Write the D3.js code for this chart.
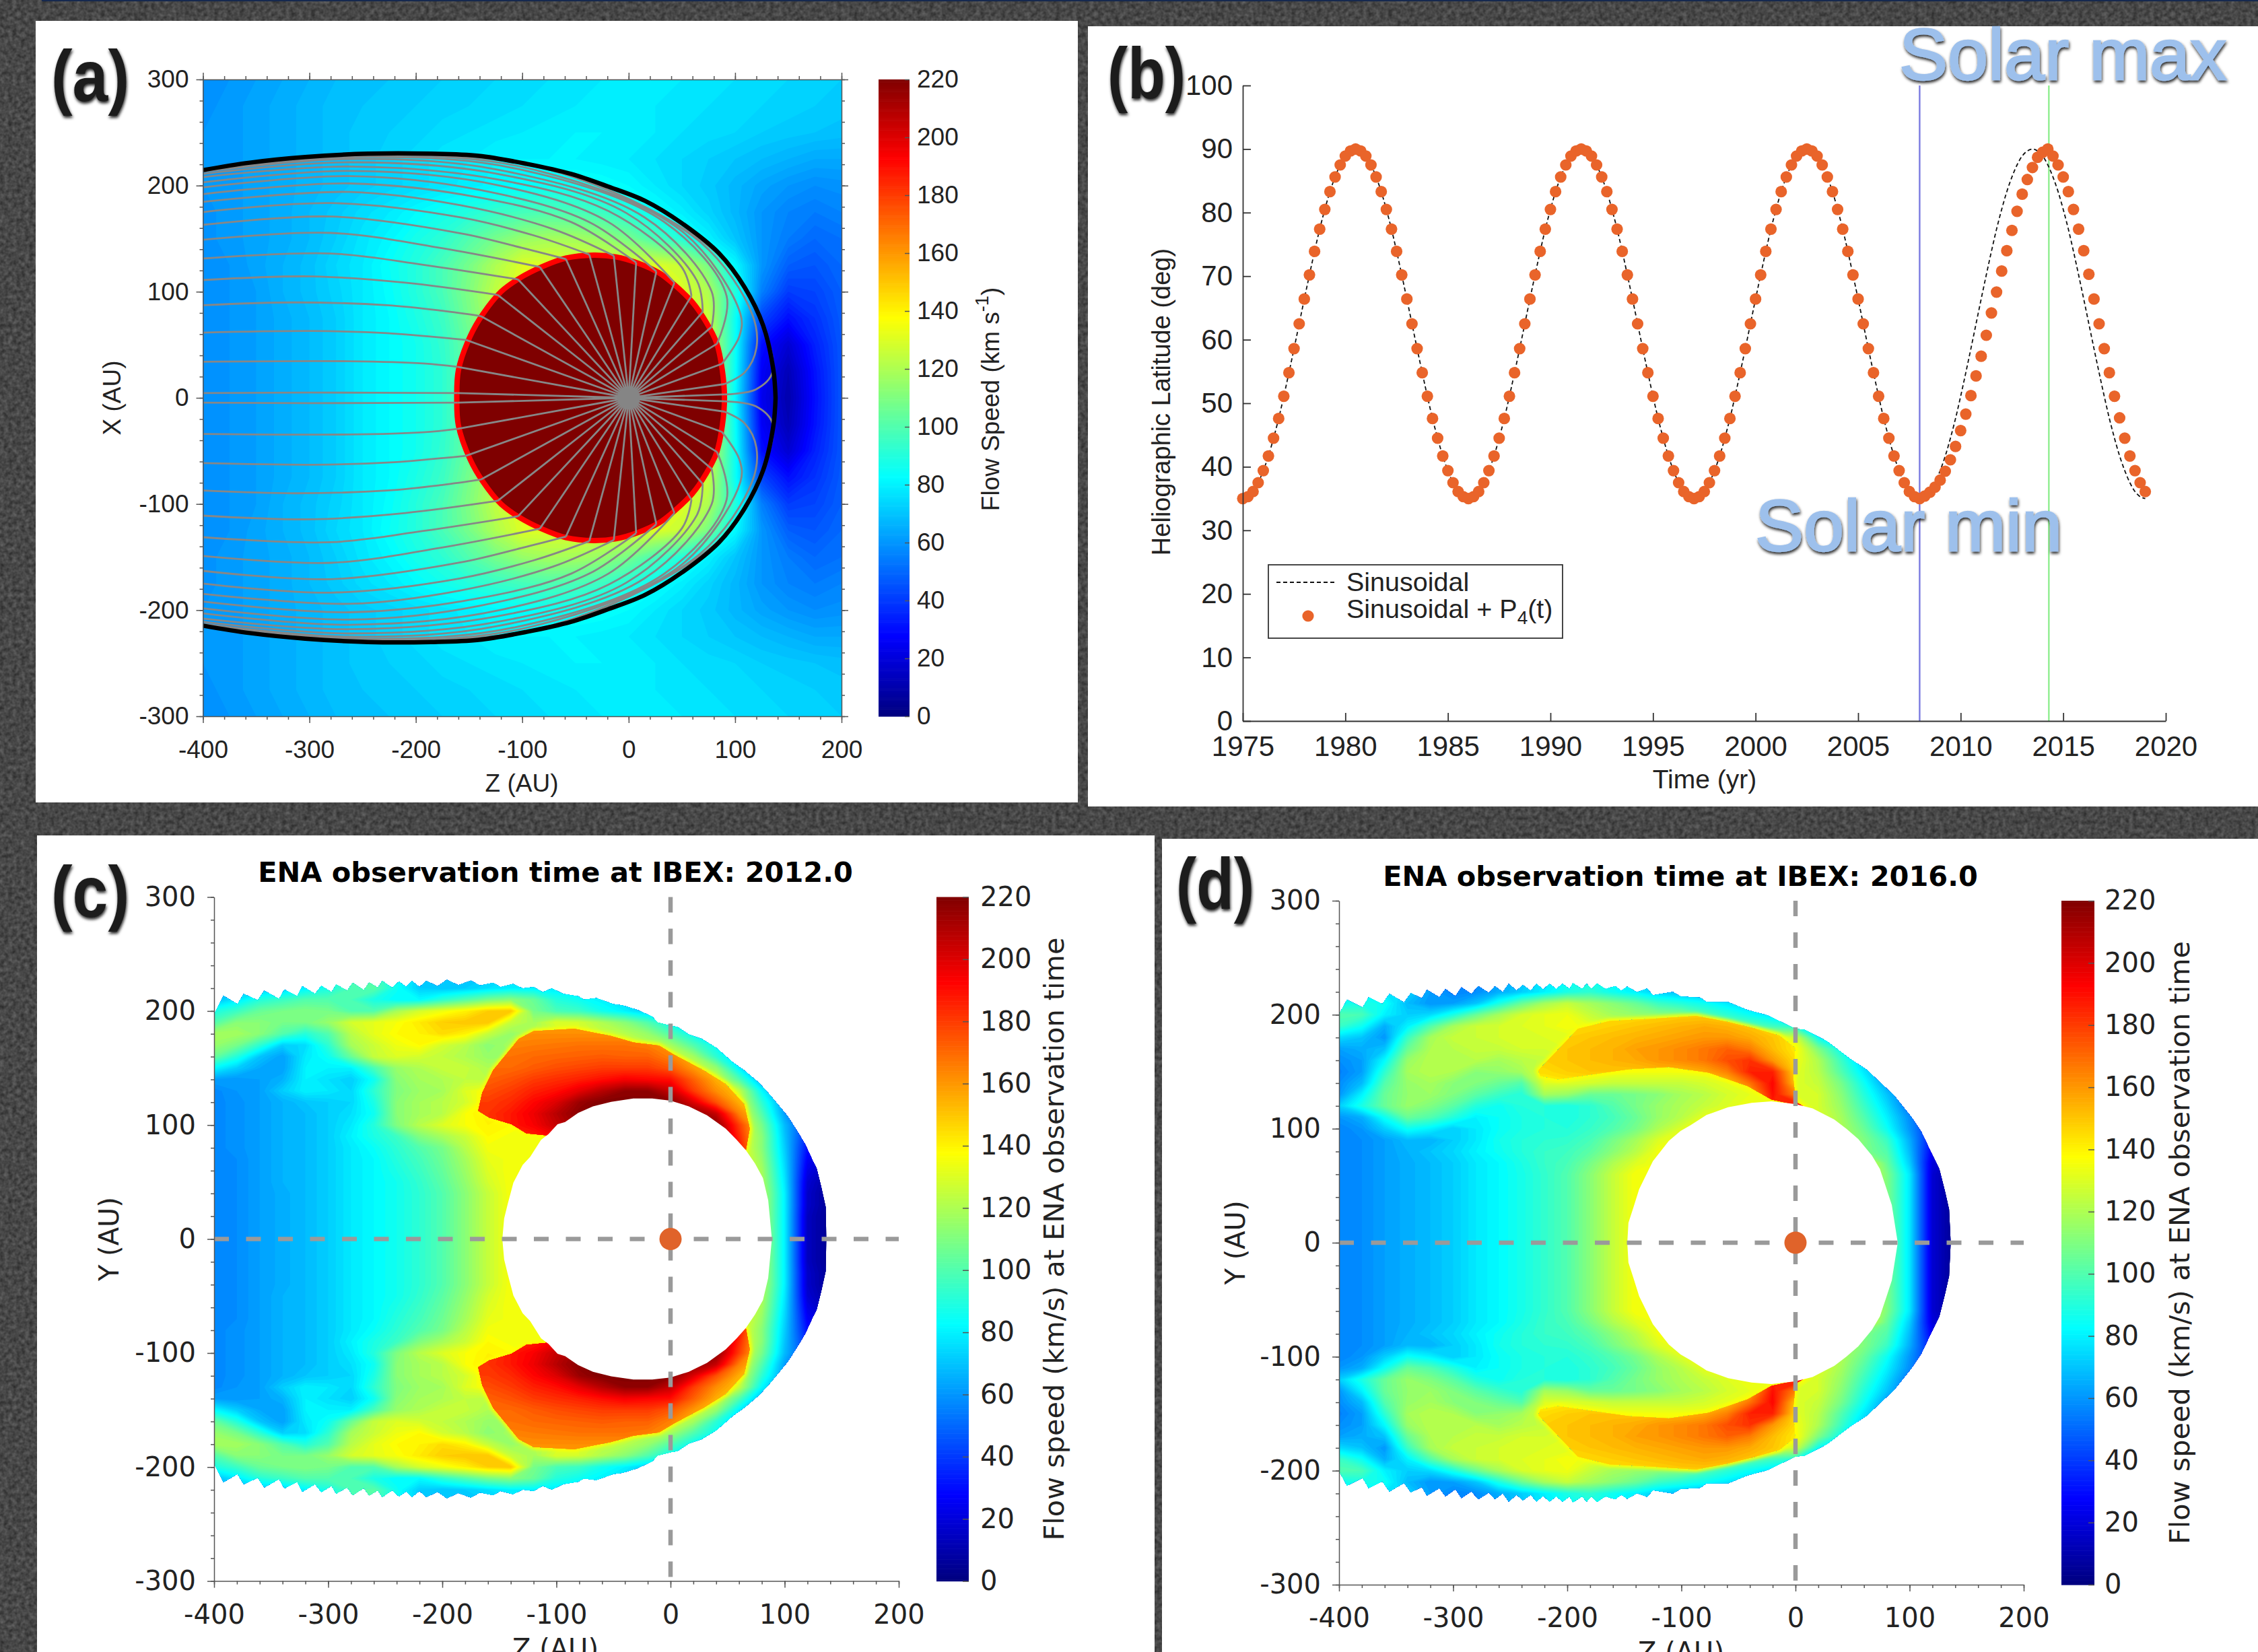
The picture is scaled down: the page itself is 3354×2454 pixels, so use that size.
<!DOCTYPE html>
<html>
<head>
<meta charset="utf-8">
<style>
	html, body { margin: 0; padding: 0; background: #444; overflow: hidden; }
	svg { display: block; }
	text { fill: #222; }
</style>
<script src="https://cdn.jsdelivr.net/npm/d3@7/dist/d3.min.js"></script>
</head>
<body>
<script>
// ---- values ----
var colorbarTicks = [0, 20, 40, 60, 80, 100, 120, 140, 160, 180, 200, 220];
var zTicks = [-400, -300, -200, -100, 0, 100, 200];
var yTicks = [-300, -200, -100, 0, 100, 200, 300];
var yearTicks = [1975, 1980, 1985, 1990, 1995, 2000, 2005, 2010, 2015, 2020];
var latTicks = [0, 10, 20, 30, 40, 50, 60, 70, 80, 90, 100];

// panel (b), one value per quarter year
var latRise = [35, 35.3, 36.1, 37.5, 39.4, 41.7, 44.5, 47.6, 51.1, 54.8, 58.6, 62.5, 66.4, 70.2, 73.9, 77.4, 80.5, 83.3, 85.6, 87.5, 88.9, 89.7, 90];
var latFall = [89.7, 88.9, 87.5, 85.6, 83.3, 80.5, 77.4, 73.9, 70.2, 66.4, 62.5, 58.6, 54.8, 51.1, 47.6, 44.5, 41.7, 39.4, 37.5, 36.1, 35.3, 35];
var lastCycleDots = [35.4, 36, 36.8, 37.9, 39.3, 41.1, 43.2, 45.7, 48.3, 51.2, 54.3, 57.4, 60.7, 64.2, 67.5, 70.8, 74, 77.2, 80.2, 82.9, 85.2, 87.1, 88.7, 89.5, 90,
	88.9, 87.5, 85.6, 83.3, 80.5, 77.4, 74, 70.3, 66.4, 62.5, 58.6, 54.8, 51.1, 47.7, 44.5, 41.7, 39.4, 37.5, 36.1];
var solarMinYear = 2008;
var solarMaxYear = 2014.3;

// panel (a) flow speed, rows from X=300 down to X=0
var fieldAz = d3.range(-400, 201, 25);
var fieldAx = d3.range(300, -1, -25);
var fieldA = [
	[58, 60, 62, 64, 66, 68, 69, 70, 71, 72, 73, 74, 75, 76, 77, 78, 78, 78, 78, 77, 76, 75, 74, 73, 72],
	[59, 61, 63, 65, 67, 69, 70, 71, 72, 73, 74, 75, 76, 77, 78, 78, 78, 78, 77, 76, 75, 74, 73, 72, 71],
	[60, 61, 63, 65, 67, 69, 71, 72, 73, 75, 76, 77, 78, 79, 80, 80, 79, 78, 76, 75, 74, 72, 71, 70, 69],
	[60, 61, 63, 65, 67, 69, 71, 73, 75, 77, 78, 80, 80, 80, 80, 79, 78, 76, 74, 72, 70, 68, 66, 64, 64],
	[60, 61, 63, 65, 67, 69, 71, 73, 75, 77, 79, 81, 83, 85, 85, 84, 82, 78, 74, 71, 67, 63, 60, 58, 59],
	[59, 61, 63, 65, 68, 71, 75, 78, 82, 86, 90, 94, 97, 99, 98, 95, 90, 84, 79, 73, 67, 60, 56, 54, 56],
	[59, 61, 63, 65, 68, 72, 77, 81, 87, 92, 100, 108, 115, 118, 118, 115, 108, 98, 90, 80, 70, 60, 54, 50, 52],
	[58, 60, 63, 66, 69, 74, 78, 84, 90, 98, 108, 120, 130, 130, 130, 130, 130, 130, 125, 108, 82, 60, 48, 46, 50],
	[58, 60, 62, 66, 69, 73, 78, 83, 90, 98, 110, 124, 132, 135, 135, 135, 135, 135, 130, 120, 90, 55, 40, 42, 48],
	[58, 60, 62, 65, 68, 72, 78, 82, 88, 95, 108, 122, 135, 135, 135, 135, 135, 135, 130, 125, 85, 42, 30, 38, 47],
	[58, 60, 62, 65, 68, 72, 78, 82, 86, 93, 105, 120, 135, 135, 135, 135, 135, 135, 130, 128, 85, 30, 18, 34, 46],
	[58, 60, 62, 65, 68, 72, 78, 82, 86, 92, 105, 120, 135, 135, 135, 135, 135, 135, 130, 128, 84, 26, 12, 31, 46],
	[58, 60, 62, 65, 68, 72, 78, 82, 86, 92, 105, 120, 135, 135, 135, 135, 135, 135, 130, 128, 82, 24, 10, 30, 46]
];

// panel (a) outlines, upper half, [Z, X] in AU
var heliopause = [[-400, 214.6], [-356, 221.6], [-304, 226.9], [-245, 230], [-186, 230], [-141, 228], [-96, 220.5], [-54, 211], [-19, 199], [15.4, 185.6], [50, 164.5], [85, 136], [109, 104], [126.4, 68], [136, 26], [138, 0]];
var termShock = [[-161.5, 0], [-160, 26], [-149, 58], [-137, 79], [-120, 100], [-102.6, 112.7], [-82, 123.3], [-59, 131.7], [-33, 134.5], [-12, 132.8], [8.5, 127], [29, 117.5], [43, 106.5], [60, 90], [73, 71], [82.5, 52], [88, 26], [90, 0]];
// streamlines, upper half: tail first, the last point sits on the shock
var streams = [
	[[-400, 4.5], [-300, 5], [-161, 4.5]],
	[[-400, 34], [-262, 34.5], [-193, 32.4], [-161, 29.2]],
	[[-400, 61.5], [-297, 63], [-227, 61], [-153, 54.6]],
	[[-400, 87.3], [-314, 89.9], [-227, 87.3], [-175, 82], [-139, 77]],
	[[-400, 111], [-297, 114.4], [-210, 108.5], [-123, 97]],
	[[-400, 131.3], [-279.6, 136], [-193, 125.4], [-104, 111.6]],
	[[-400, 149], [-279.6, 155.4], [-175.5, 141], [-83.5, 123.3]],
	[[-400, 163], [-279.6, 170.8], [-158, 155], [-99, 141], [-59, 130.7]],
	[[-400, 175], [-279.6, 183.5], [-158, 170], [-89, 153], [-37, 135]],
	[[-400, 184.6], [-262, 194], [-158, 181.4], [-71, 159], [-14, 134]],
	[[-400, 192], [-262, 202], [-140.7, 188.8], [-54, 165.6], [7, 127.5]],
	[[-400, 198.3], [-262, 208.9], [-140.7, 196], [-37, 165.6], [26, 119]],
	[[-400, 203], [-262, 213.8], [-123, 200.4], [-19, 165.6], [43, 108.5]],
	[[-400, 208], [-262, 218], [-123, 205.7], [-19, 176], [50, 123], [59, 96]],
	[[-400, 211], [-262, 222], [-123, 211], [-2, 174], [64, 110.6], [69.5, 81]],
	[[-400, 213], [-262, 225], [-123, 215], [15, 170], [78, 100], [78, 67]],
	[[-400, 214], [-245, 227], [-106, 216], [33, 166], [92, 96], [83, 51]],
	[[-400, 214.5], [-227.5, 228.5], [-89, 215], [50, 157], [105, 79], [104, 58], [87.5, 32]],
	[[-400, 214.5], [-210, 229], [-71, 214], [67, 147], [116, 79], [120, 47], [109, 24], [90, 13]],
	[[-400, 214.7], [-193, 229.4], [-54, 209], [82, 137], [122, 78], [135, 24], [119.5, 8], [90, 3.2]]
];

// panels (c) and (d): flow speed, rows from Y=230 down to Y=0, columns Z=-400..140
var fieldZ = d3.range(-400, 141, 20);
var fieldY = d3.range(230, -1, -10);
var fieldC = [
	[70, 70, 70, 72, 80, 88, 98, 100, 85, 72, 70, 70, 72, 75, 75, 72, 70, 68, 65, 62, 60, 60, 60, 60, 60, 60, 60, 60],
	[70, 70, 70, 72, 80, 88, 98, 102, 85, 72, 70, 72, 76, 80, 80, 78, 76, 72, 68, 65, 62, 60, 60, 60, 60, 60, 60, 60],
	[68, 78, 90, 95, 100, 100, 98, 88, 82, 82, 92, 100, 108, 112, 105, 90, 85, 80, 74, 70, 66, 62, 60, 60, 60, 60, 60, 60],
	[88, 95, 105, 108, 110, 108, 100, 100, 118, 128, 134, 140, 148, 150, 108, 98, 95, 86, 80, 72, 68, 64, 60, 60, 60, 60, 60, 60],
	[100, 112, 112, 108, 108, 115, 128, 132, 136, 142, 148, 150, 150, 125, 118, 130, 128, 120, 112, 100, 85, 74, 66, 60, 60, 60, 60, 60],
	[118, 118, 112, 100, 90, 100, 122, 132, 138, 140, 145, 140, 125, 115, 120, 125, 128, 125, 122, 115, 100, 84, 72, 62, 60, 60, 60, 60],
	[115, 108, 92, 72, 75, 92, 118, 126, 134, 138, 128, 122, 112, 118, 122, 122, 125, 125, 125, 122, 118, 100, 84, 70, 60, 60, 60, 60],
	[105, 90, 70, 62, 78, 85, 105, 125, 130, 128, 124, 120, 115, 115, 120, 125, 125, 125, 125, 125, 125, 118, 92, 72, 60, 60, 60, 60],
	[82, 72, 64, 62, 80, 80, 80, 98, 115, 120, 125, 125, 120, 128, 130, 130, 130, 130, 130, 130, 130, 125, 115, 80, 60, 60, 60, 60],
	[62, 60, 62, 66, 80, 76, 72, 85, 112, 118, 120, 124, 122, 130, 130, 130, 130, 130, 130, 130, 130, 130, 128, 100, 65, 55, 55, 55],
	[57, 60, 62, 72, 80, 78, 74, 92, 110, 116, 118, 130, 138, 135, 130, 130, 130, 130, 130, 130, 130, 130, 135, 125, 82, 55, 45, 45],
	[57, 59, 62, 66, 70, 72, 74, 88, 112, 118, 122, 128, 140, 145, 135, 135, 135, 135, 135, 135, 135, 135, 135, 130, 92, 60, 45, 40],
	[57, 59, 62, 66, 68, 72, 76, 85, 112, 118, 122, 136, 142, 140, 135, 135, 135, 135, 135, 135, 135, 135, 135, 135, 100, 62, 42, 35],
	[57, 59, 62, 66, 68, 72, 78, 90, 110, 122, 130, 136, 140, 138, 135, 135, 135, 135, 135, 135, 135, 135, 135, 135, 108, 68, 40, 30],
	[57, 59, 62, 66, 68, 72, 80, 88, 95, 110, 118, 126, 138, 135, 135, 135, 135, 135, 135, 135, 135, 135, 135, 135, 112, 70, 35, 25],
	[57, 59, 62, 66, 68, 72, 78, 84, 92, 100, 108, 122, 135, 135, 135, 135, 135, 135, 135, 135, 135, 135, 135, 135, 112, 72, 30, 20],
	[57, 58, 62, 66, 68, 72, 78, 82, 90, 97, 106, 118, 132, 135, 135, 135, 135, 135, 135, 135, 135, 135, 135, 135, 115, 74, 26, 15],
	[56, 58, 62, 66, 68, 72, 78, 82, 88, 95, 104, 116, 130, 136, 135, 135, 135, 135, 135, 135, 135, 135, 135, 135, 118, 76, 22, 10],
	[56, 58, 62, 66, 68, 72, 78, 82, 86, 93, 102, 114, 128, 136, 135, 135, 135, 135, 135, 135, 135, 135, 135, 135, 120, 78, 18, 6],
	[56, 58, 62, 65, 68, 72, 78, 82, 86, 92, 100, 112, 125, 136, 135, 135, 135, 135, 135, 135, 135, 135, 135, 135, 122, 80, 16, 4],
	[56, 58, 62, 65, 68, 72, 78, 82, 86, 92, 100, 112, 125, 136, 135, 135, 135, 135, 135, 135, 135, 135, 135, 135, 122, 80, 16, 4],
	[56, 58, 62, 65, 68, 72, 78, 82, 86, 92, 100, 112, 125, 136, 135, 135, 135, 135, 135, 135, 135, 135, 135, 135, 122, 80, 14, 3],
	[56, 58, 62, 65, 68, 72, 78, 82, 86, 92, 100, 112, 125, 136, 135, 135, 135, 135, 135, 135, 135, 135, 135, 135, 122, 80, 14, 3],
	[56, 58, 62, 65, 68, 72, 78, 82, 86, 92, 100, 112, 125, 136, 135, 135, 135, 135, 135, 135, 135, 135, 135, 135, 122, 80, 14, 3]
];
var fieldD = [
	[78, 78, 76, 72, 60, 56, 58, 62, 70, 78, 84, 88, 82, 76, 70, 66, 62, 60, 60, 60, 60, 60, 60, 60, 60, 60, 60, 60],
	[80, 80, 78, 75, 62, 56, 58, 65, 72, 80, 88, 92, 85, 80, 72, 68, 65, 62, 60, 60, 60, 60, 60, 60, 60, 60, 60, 60],
	[85, 88, 85, 68, 60, 62, 70, 88, 105, 118, 125, 118, 112, 105, 95, 90, 85, 78, 72, 66, 62, 60, 60, 60, 60, 60, 60, 60],
	[100, 98, 80, 72, 75, 88, 105, 118, 128, 132, 134, 125, 118, 115, 112, 110, 100, 92, 84, 76, 68, 62, 60, 60, 60, 60, 60, 60],
	[95, 85, 65, 80, 100, 118, 126, 128, 130, 132, 136, 132, 125, 122, 118, 115, 112, 108, 102, 96, 90, 72, 62, 60, 60, 60, 60, 60],
	[75, 70, 60, 95, 118, 125, 126, 128, 128, 130, 130, 128, 128, 128, 128, 128, 125, 122, 125, 130, 128, 85, 68, 60, 60, 60, 60, 60],
	[62, 65, 70, 105, 120, 122, 125, 125, 128, 128, 130, 130, 130, 130, 130, 130, 130, 130, 130, 135, 138, 110, 85, 66, 60, 60, 60, 60],
	[58, 62, 82, 115, 122, 120, 122, 118, 122, 125, 128, 130, 130, 130, 130, 130, 130, 130, 130, 135, 135, 120, 95, 70, 55, 55, 55, 55],
	[55, 62, 92, 118, 122, 120, 112, 114, 118, 130, 132, 135, 135, 135, 135, 135, 135, 135, 135, 135, 132, 122, 100, 78, 60, 50, 50, 50],
	[58, 68, 100, 115, 118, 112, 110, 105, 100, 130, 130, 128, 125, 125, 125, 125, 128, 132, 135, 135, 130, 125, 108, 85, 62, 50, 45, 45],
	[60, 80, 105, 114, 116, 110, 102, 95, 90, 118, 115, 105, 105, 108, 112, 118, 122, 128, 132, 132, 130, 128, 112, 90, 70, 50, 42, 42],
	[72, 88, 105, 115, 110, 102, 90, 85, 90, 90, 88, 92, 100, 108, 115, 120, 125, 130, 135, 135, 135, 128, 115, 95, 75, 52, 40, 40],
	[60, 65, 85, 105, 100, 90, 80, 84, 88, 90, 88, 92, 97, 105, 115, 122, 132, 135, 135, 135, 135, 130, 118, 100, 80, 58, 38, 30],
	[56, 60, 72, 85, 80, 72, 78, 84, 88, 90, 90, 94, 100, 108, 120, 130, 135, 135, 135, 135, 135, 130, 120, 105, 85, 60, 35, 25],
	[56, 58, 62, 68, 66, 72, 78, 86, 90, 92, 93, 98, 108, 118, 130, 135, 135, 135, 135, 135, 135, 130, 120, 110, 95, 65, 30, 20],
	[56, 58, 62, 66, 70, 74, 80, 85, 90, 94, 96, 102, 112, 122, 135, 135, 135, 135, 135, 135, 135, 130, 120, 110, 100, 68, 25, 15],
	[56, 58, 62, 65, 68, 72, 78, 82, 88, 94, 98, 108, 120, 130, 135, 135, 135, 135, 135, 135, 135, 135, 135, 135, 105, 72, 20, 10],
	[56, 58, 62, 65, 68, 72, 78, 82, 87, 93, 100, 112, 125, 136, 135, 135, 135, 135, 135, 135, 135, 135, 135, 135, 110, 78, 18, 3],
	[56, 58, 62, 65, 68, 72, 78, 82, 87, 93, 100, 112, 125, 136, 135, 135, 135, 135, 135, 135, 135, 135, 135, 135, 110, 78, 18, 3],
	[56, 58, 62, 65, 68, 72, 78, 82, 87, 93, 100, 112, 125, 136, 135, 135, 135, 135, 135, 135, 135, 135, 135, 135, 110, 78, 18, 3],
	[56, 58, 62, 65, 68, 72, 78, 82, 87, 93, 100, 112, 125, 136, 135, 135, 135, 135, 135, 135, 135, 135, 135, 135, 110, 78, 18, 3],
	[56, 58, 62, 65, 68, 72, 78, 82, 87, 93, 100, 112, 125, 136, 135, 135, 135, 135, 135, 135, 135, 135, 135, 135, 110, 78, 18, 3],
	[56, 58, 62, 65, 68, 72, 78, 82, 87, 93, 100, 112, 125, 136, 135, 135, 135, 135, 135, 135, 135, 135, 135, 135, 110, 78, 18, 3],
	[56, 58, 62, 65, 68, 72, 78, 82, 87, 93, 100, 112, 125, 136, 135, 135, 135, 135, 135, 135, 135, 135, 135, 135, 110, 78, 18, 3]
];

// the hot lobes, with their own sharper outline. Rows top down.
var lobeCz = d3.range(-180, 81, 20);
var lobeCy = d3.range(190, 79, -10);
var lobeC = [
	[160, 160, 160, 160, 160, 160, 160, 160, 160, 160, 150, 145, 140, 140],
	[160, 160, 160, 162, 162, 162, 162, 162, 160, 155, 150, 145, 140, 140],
	[165, 165, 165, 166, 167, 168, 168, 168, 166, 160, 150, 145, 140, 140],
	[168, 168, 168, 170, 171, 172, 173, 172, 172, 165, 152, 147, 140, 140],
	[170, 170, 170, 173, 176, 178, 180, 180, 180, 174, 160, 150, 145, 140],
	[172, 172, 175, 180, 183, 186, 190, 194, 192, 190, 172, 155, 145, 140],
	[176, 176, 180, 186, 190, 198, 208, 216, 216, 205, 180, 162, 150, 140],
	[180, 180, 184, 192, 200, 214, 220, 220, 220, 218, 200, 175, 155, 145],
	[182, 182, 188, 196, 208, 218, 220, 220, 220, 220, 218, 205, 165, 145],
	[180, 180, 188, 194, 205, 215, 220, 220, 220, 220, 220, 218, 180, 145],
	[170, 172, 178, 186, 195, 210, 220, 220, 220, 220, 220, 220, 185, 145],
	[165, 165, 170, 178, 190, 205, 220, 220, 220, 220, 220, 220, 190, 145]
];
var lobeDz = d3.range(-240, 21, 20);
var lobeDy = d3.range(200, 109, -10);
var lobeD = [
	[145, 145, 145, 145, 145, 145, 146, 148, 148, 146, 145, 145, 140, 138],
	[146, 146, 146, 146, 148, 150, 152, 154, 156, 154, 150, 145, 140, 138],
	[148, 148, 148, 150, 152, 154, 156, 158, 160, 160, 156, 150, 142, 138],
	[148, 148, 150, 152, 154, 158, 160, 163, 167, 172, 166, 152, 142, 138],
	[148, 148, 150, 152, 154, 156, 160, 163, 167, 176, 182, 160, 145, 138],
	[145, 145, 148, 150, 150, 150, 152, 152, 156, 165, 186, 186, 146, 138],
	[140, 140, 142, 142, 142, 142, 142, 142, 146, 150, 168, 192, 150, 138],
	[138, 138, 138, 138, 138, 138, 138, 138, 138, 142, 152, 190, 165, 140],
	[138, 138, 138, 138, 138, 138, 138, 138, 138, 140, 150, 185, 195, 180],
	[138, 138, 138, 138, 138, 138, 138, 138, 138, 140, 150, 180, 195, 180]
];
var lobeOutlineC = [[-108.6, 91], [-126.4, 92.8], [-139.3, 100.7], [-159, 106.6], [-168.5, 112.5], [-165, 128.3], [-155.5, 148], [-142.6, 163.7], [-133, 175.5], [-120, 182.4], [-84.3, 184.4], [-52, 178], [-32.6, 172.5], [-10, 169.6], [3, 161.7], [29, 148], [48.3, 136], [64.5, 118.4], [69.4, 96.8], [66, 78]];
var lobeOutlineD = [[-225.3, 151.2], [-223.6, 146.3], [-208, 143.4], [-180.3, 147.3], [-145.7, 152.2], [-111, 154.2], [-76.5, 149.3], [-42, 137.5], [-21, 125.7], [-7.3, 122.7], [8, 118.8], [0, 123.7], [-2, 145.3], [-0.4, 171], [-14.2, 181.8], [-35, 187.7], [-59, 193.6], [-87, 198.9], [-125, 196.5], [-163, 194.5], [-190.7, 187.7], [-204.6, 172.9]];

// outer jagged rim and inner hole, upper half, [Z, Y] in AU
var rimC = [[-400, 197], [-391.8, 213.3], [-379.5, 206], [-374, 215], [-361.7, 209.3], [-356, 217.8], [-343, 210.5], [-338.4, 218.8], [-327, 213], [-322.8, 221.7], [-311.5, 214.9], [-306, 222], [-297, 216.4], [-293, 223.3], [-283.4, 217.8], [-278.5, 224.7], [-268.8, 218.4], [-264, 225], [-256.5, 220.4], [-252.6, 226.3], [-244, 220.4], [-238, 225.7], [-231.6, 221.2], [-226.7, 226.3], [-220, 221], [-214, 226.3], [-204, 221.7], [-196, 227.3], [-186, 222.7], [-175, 226.7], [-167, 222.3], [-155.5, 224.7], [-149, 221], [-138, 223.7], [-129.6, 219.8], [-120, 221], [-112, 216.4], [-104, 219.8], [-94, 214.9], [-81, 212.9], [-76, 210], [-65, 211.3], [-50, 206], [-42, 205], [-29, 201], [-16, 195], [-11.5, 190], [0, 187], [6, 186], [16, 179.4], [27.3, 175.5], [40.2, 167.6], [54.8, 154.8], [64.5, 148], [77.5, 137], [87.2, 126.3], [102.7, 107.6], [112, 93], [118, 83], [124, 70], [128, 62], [132, 46], [136, 28], [136.5, 0]];
var holeC = [[-147.4, 0], [-145.8, 18], [-142.6, 31], [-137.7, 49.5], [-129.6, 65], [-123, 72], [-113.5, 87], [-107, 92], [-99, 100.7], [-92.4, 102.7], [-81, 110.6], [-68, 116.4], [-52, 120.4], [-32.6, 123.3], [-16, 123.3], [0, 121.4], [16, 116.4], [32, 108.6], [48.3, 96.8], [58, 87], [66, 78], [74, 66.3], [81, 53.5], [85.6, 34], [88.8, 0]];
var rimD = [[-400, 200.4], [-393, 213], [-379.3, 206.3], [-374, 215.2], [-362, 209.3], [-355.8, 218.2], [-343, 210.7], [-337, 219], [-327.4, 214.2], [-323, 221.7], [-312, 215.2], [-306.7, 222.5], [-298, 216.2], [-292.8, 224], [-284, 218], [-278, 225], [-268.6, 219.1], [-263.4, 225], [-256.5, 219.7], [-251.3, 227], [-244.4, 221], [-239, 226], [-232, 221], [-227, 227], [-221, 222], [-215.6, 227], [-209.7, 222.5], [-204, 227], [-198, 222.5], [-195, 227.6], [-187, 222.5], [-183, 227], [-178.6, 222.5], [-174, 227.4], [-166.5, 222.5], [-158, 225], [-152.6, 221], [-147.5, 224.5], [-138.8, 219.7], [-130, 223], [-125, 217], [-107.6, 220], [-100.7, 216], [-83.4, 215], [-78, 211], [-59, 211], [-42, 204], [-24.6, 199.5], [-0.4, 187.7], [8, 186.7], [27.3, 176.8], [48, 161], [62, 152], [77.5, 137.5], [86, 129.6], [101.7, 110], [110.4, 97], [117.3, 82.4], [126, 64.7], [131, 45], [134.6, 29.2], [136, 0]];
var holeD = [[-147.4, 0], [-146.4, 17.4], [-142, 31], [-137, 47], [-125, 71.5], [-111, 89.3], [-100.7, 98], [-92, 103], [-78, 112], [-59, 118.8], [-38.4, 122.7], [-21, 124], [-0.4, 121.7], [15, 117.8], [34, 108], [44.6, 100], [55, 91], [67, 76.5], [74, 64.7], [79.2, 49], [84.4, 33], [89.6, 0]];

// ---- page ----
var W = 3354, H = 2454;
var tickFont = '"Liberation Sans", Arial, sans-serif';
var dejaFont = '"DejaVu Sans", sans-serif';

// same jet as the colorbars
var jet = d3.scaleLinear()
	.domain([0, 27.5, 82.5, 137.5, 192.5, 220])
	.range(["#00007f", "#0000ff", "#00ffff", "#ffff00", "#ff0000", "#7f0000"])
	.clamp(true);

var svg = d3.select("body").append("svg").attr("width", W).attr("height", H);
var defs = svg.append("defs");

var grain = defs.append("filter").attr("id", "grain").attr("x", 0).attr("y", 0).attr("width", 1).attr("height", 1)
	.attr("color-interpolation-filters", "sRGB");
grain.append("feTurbulence").attr("type", "fractalNoise").attr("baseFrequency", 0.16).attr("numOctaves", 2).attr("seed", 4);
grain.append("feColorMatrix").attr("values", "0.28 0 0 0 0.14  0.28 0 0 0 0.14  0.28 0 0 0 0.14  0 0 0 0 1");

var shadow = defs.append("filter").attr("id", "shadow").attr("x", "-10%").attr("y", "-10%").attr("width", "120%").attr("height", "130%");
shadow.append("feDropShadow").attr("dx", 1).attr("dy", 3).attr("stdDeviation", 2).attr("flood-color", "#000").attr("flood-opacity", 0.85);

var soft = defs.append("filter").attr("id", "soft").attr("x", "-10%").attr("y", "-10%").attr("width", "120%").attr("height", "120%");
soft.append("feGaussianBlur").attr("stdDeviation", 2.5);

svg.append("rect").attr("width", W).attr("height", H).attr("filter", "url(#grain)");
svg.append("rect").attr("x", 62).attr("y", 0).attr("width", W - 62).attr("height", 2).attr("fill", "#16294f");

// white sheets behind the four panels
[[53, 31, 1548, 1161], [1616, 39, 1738, 1159], [55, 1241, 1660, 1213], [1726, 1246, 1628, 1208]].forEach(function (s) {
	svg.append("rect").attr("x", s[0]).attr("y", s[1]).attr("width", s[2]).attr("height", s[3]).attr("fill", "#fff");
});

function mirrored(half) {
	var back = half.slice().reverse().map(function (p) {
		return [p[0], -p[1]];
	});
	return half.concat(back);
}

function mirrorRows(rows) {
	return rows.concat(rows.slice(0, -1).reverse());
}

// filled contours of a regular grid, stacked from low to high
function drawField(g, rows, zs, ys, zScale, yScale) {
	var n = zs.length, m = rows.length;
	var dz = zs[1] - zs[0], dy = ys[1] - ys[0];
	var levels = d3.range(2, 220, 2);
	var contours = d3.contours().size([n, m]).thresholds(levels)(d3.merge(rows));
	var toScreen = d3.geoTransform({
		point: function (x, y) {
			this.stream.point(zScale(zs[0] + (x - 0.5) * dz), yScale(ys[0] + (y - 0.5) * dy));
		}
	});
	var path = d3.geoPath(toScreen);
	g.append("rect")
		.attr("x", zScale(zs[0] - dz)).attr("y", Math.min(yScale(ys[0] - dy), yScale(ys[0] + dy * m)))
		.attr("width", Math.abs(zScale(zs[n - 1] + dz) - zScale(zs[0] - dz)))
		.attr("height", Math.abs(yScale(ys[0] + dy * m) - yScale(ys[0] - dy)))
		.attr("fill", jet(0));
	g.selectAll("path.level").data(contours).enter().append("path")
		.attr("class", "level")
		.attr("d", path)
		.attr("fill", function (d) { return jet(d.value + 1); });
}

function drawColorbar(g, x, top, bottom, barWidth, pad, fontFamily, fontSize, tickLen) {
	var c = d3.scaleLinear().domain([0, 220]).range([bottom, top]);
	g.selectAll("rect.cb").data(d3.range(0, 220, 0.5)).enter().append("rect")
		.attr("class", "cb")
		.attr("x", x)
		.attr("width", barWidth)
		.attr("y", function (d) { return c(d + 0.5); })
		.attr("height", (bottom - top) / 440 + 0.6)
		.attr("fill", function (d) { return jet(d); });
	var axis = g.append("g").attr("transform", "translate(" + (x + barWidth) + ",0)")
		.call(d3.axisRight(c).tickValues(colorbarTicks).tickSizeInner(-tickLen).tickSizeOuter(0).tickPadding(pad));
	axis.select(".domain").attr("stroke", "none");
	axis.selectAll("line").attr("stroke", "#555").attr("stroke-width", 1.5);
	axis.selectAll("text").attr("font-family", fontFamily).attr("font-size", fontSize).style("fill", "#222");
}

// major and minor ticks, drawn outwards on the requested sides
function drawBoxAxes(g, zS, yS, padLeft, padBottom, fontFamily, fontSize, box) {
	var plain = function (d) { return String(d); };
	var minorZ = d3.range(-400, 201, 20), minorY = d3.range(-300, 301, 20);
	var sides = [
		[d3.axisLeft(yS), yTicks, minorY, "translate(" + zS.range()[0] + ",0)", padLeft, true],
		[d3.axisBottom(zS), zTicks, minorZ, "translate(0," + yS.range()[0] + ")", padBottom, true]
	];
	if (box) {
		sides.push([d3.axisRight(yS), yTicks, minorY, "translate(" + zS.range()[1] + ",0)", 0, false]);
		sides.push([d3.axisTop(zS), zTicks, minorZ, "translate(0," + yS.range()[1] + ")", 0, false]);
	}
	sides.forEach(function (s) {
		var a = s[0];
		var gMinor = g.append("g").attr("transform", s[3])
			.call(a.tickValues(s[2]).tickSizeInner(5).tickSizeOuter(0).tickFormat(""));
		gMinor.selectAll("line").attr("stroke", "#555").attr("stroke-width", 1.5);
		gMinor.select(".domain").attr("stroke", "#555").attr("stroke-width", 1.5);
		var gMajor = g.append("g").attr("transform", s[3])
			.call(a.tickValues(s[1]).tickSizeInner(10).tickSizeOuter(0).tickPadding(s[4]).tickFormat(s[5] ? plain : ""));
		gMajor.select(".domain").remove();
		gMajor.selectAll("line").attr("stroke", "#555").attr("stroke-width", 1.5);
		gMajor.selectAll("text").attr("font-family", fontFamily).attr("font-size", fontSize).style("fill", "#222");
	});
}

function addText(x, y, str, family, size, extra) {
	var t = svg.append("text").attr("x", x).attr("y", y).attr("font-family", family).attr("font-size", size).text(str);
	if (extra && extra.rotate) {
		t.attr("transform", "rotate(-90 " + x + " " + y + ")").attr("text-anchor", "middle").attr("dominant-baseline", "central");
	}
	if (extra && extra.anchor) { t.attr("text-anchor", extra.anchor); }
	if (extra && extra.weight) { t.attr("font-weight", extra.weight); }
	return t;
}

function panelLetter(x, y, str) {
	svg.append("text").attr("x", x).attr("y", y).text(str)
		.attr("font-family", tickFont).attr("font-size", 108).attr("font-weight", "bold")
		.attr("textLength", 116).attr("lengthAdjust", "spacingAndGlyphs")
		.style("fill", "#1c1c1c").attr("filter", "url(#shadow)");
}

// ---- panel (a) ----
function drawPanelA() {
	var zS = d3.scaleLinear().domain([-400, 200]).range([301.5, 1250]);
	var yS = d3.scaleLinear().domain([-300, 300]).range([1064, 118]);
	var g = svg.append("g");
	var clip = defs.append("clipPath").attr("id", "clipA");
	clip.append("rect").attr("x", 301.5).attr("y", 118).attr("width", 948.5).attr("height", 946);
	var fg = g.append("g").attr("clip-path", "url(#clipA)");
	var ys = fieldAx.concat(fieldAx.slice(0, -1).map(function (d) { return -d; }).reverse());
	drawField(fg, mirrorRows(fieldA), fieldAz, ys, zS, yS);

	var line = d3.line().x(function (d) { return zS(d[0]); }).y(function (d) { return yS(d[1]); });
	var lower = termShock.slice(1, -1).reverse().map(function (p) { return [p[0], -p[1]]; });
	var closed = line.curve(d3.curveCatmullRomClosed.alpha(0.5))(termShock.concat(lower));
	fg.append("path").attr("d", closed).attr("fill", "#7f0000").attr("stroke", "#ff0000").attr("stroke-width", 8);

	var tail = d3.line().x(function (d) { return zS(d[0]); }).y(function (d) { return yS(d[1]); }).curve(d3.curveCatmullRom.alpha(0.5));
	[1, -1].forEach(function (sign) {
		streams.forEach(function (s) {
			var pts = s.map(function (p) { return [p[0], sign * p[1]]; });
			fg.append("path").attr("d", tail(pts)).attr("fill", "none").attr("stroke", "#878787").attr("stroke-width", 2.8);
			var end = pts[pts.length - 1];
			fg.append("line").attr("x1", zS(end[0])).attr("y1", yS(end[1])).attr("x2", zS(0)).attr("y2", yS(0))
				.attr("stroke", "#878787").attr("stroke-width", 2.8);
		});
	});
	fg.append("circle").attr("cx", zS(0)).attr("cy", yS(0)).attr("r", 17).attr("fill", "#858585");
	[1, -1].forEach(function (sign) {
		fg.append("path")
			.attr("d", tail(heliopause.map(function (p) { return [p[0], sign * p[1]]; })))
			.attr("fill", "none").attr("stroke", "#000").attr("stroke-width", 6.5);
	});

	drawBoxAxes(g, zS, yS, 11, 26, tickFont, 37, true);
	drawColorbar(g, 1305, 118, 1064, 46, 11, tickFont, 37, 7);

	addText(775, 1176, "Z (AU)", tickFont, 37, { anchor: "middle" });
	addText(166, 591, "X (AU)", tickFont, 37, { rotate: true });
	var cbLabel = addText(1471, 593, "Flow Speed (km s", tickFont, 37, { rotate: true });
	cbLabel.append("tspan").attr("dy", -12).attr("font-size", 27).text("-1");
	cbLabel.append("tspan").attr("dy", 12).text(")");
	panelLetter(76, 150, "(a)");
}

// ---- panel (b) ----
function drawPanelB() {
	var xS = d3.scaleLinear().domain([1975, 2020]).range([1846, 3217]);
	var yS = d3.scaleLinear().domain([0, 100]).range([1071, 127]);
	var g = svg.append("g");

	// four solar cycles, the dots follow them for the first three only
	var sinusoidal = latRise.concat(latFall, latRise.slice(1), latFall, latRise.slice(1), latFall, latRise.slice(1), latFall);
	var dots = sinusoidal.slice(0, 133).concat(lastCycleDots);
	var t = function (i) { return 1975 + i * 0.25; };

	[[solarMinYear, "#7b7be0"], [solarMaxYear, "#8fee8f"]].forEach(function (v) {
		g.append("line").attr("x1", xS(v[0])).attr("x2", xS(v[0])).attr("y1", yS(100)).attr("y2", yS(0))
			.attr("stroke", v[1]).attr("stroke-width", 2.4);
	});

	var line = d3.line().x(function (d, i) { return xS(t(i)); }).y(function (d) { return yS(d); }).curve(d3.curveCatmullRom);
	g.append("path").attr("d", line(sinusoidal)).attr("fill", "none").attr("stroke", "#111").attr("stroke-width", 1.8).attr("stroke-dasharray", "6 4");

	g.selectAll("circle.dot").data(dots).enter().append("circle")
		.attr("class", "dot")
		.attr("cx", function (d, i) { return xS(t(i)); })
		.attr("cy", function (d) { return yS(d); })
		.attr("r", 8.6)
		.attr("fill", "#e9642a");

	var ax = g.append("g").attr("transform", "translate(0,1071)")
		.call(d3.axisBottom(xS).tickValues(yearTicks).tickFormat(d3.format("d")).tickSizeInner(-12).tickSizeOuter(0).tickPadding(22));
	var ay = g.append("g").attr("transform", "translate(1846,0)")
		.call(d3.axisLeft(yS).tickValues(latTicks).tickSizeInner(-12).tickSizeOuter(0).tickPadding(15));
	[ax, ay].forEach(function (a) {
		a.selectAll("path,line").attr("stroke", "#333").attr("stroke-width", 1.8);
		a.selectAll("text").attr("font-family", tickFont).attr("font-size", 42).style("fill", "#222");
	});

	addText(2532, 1171, "Time (yr)", tickFont, 39, { anchor: "middle" });
	addText(1725, 597, "Heliographic Latitude (deg)", tickFont, 38, { rotate: true });

	// legend
	g.append("rect").attr("x", 1884).attr("y", 839).attr("width", 437).attr("height", 109)
		.attr("fill", "#fff").attr("stroke", "#333").attr("stroke-width", 1.8);
	g.append("line").attr("x1", 1896).attr("x2", 1986).attr("y1", 865).attr("y2", 865)
		.attr("stroke", "#111").attr("stroke-width", 1.8).attr("stroke-dasharray", "6 4");
	g.append("circle").attr("cx", 1943).attr("cy", 915).attr("r", 8.6).attr("fill", "#e9642a");
	addText(2000, 878, "Sinusoidal", tickFont, 39.5);
	var leg = addText(2000, 918, "Sinusoidal + P", tickFont, 39.5);
	leg.append("tspan").attr("dy", 9).attr("font-size", 28).text("4");
	leg.append("tspan").attr("dy", -9).text("(t)");

	[["Solar max", 2821, 118], ["Solar min", 2607, 818]].forEach(function (s) {
		svg.append("text").attr("x", s[1]).attr("y", s[2]).text(s[0])
			.attr("font-family", tickFont).attr("font-size", 108)
			.attr("stroke", "#9dc0ec").attr("stroke-width", 2.5)
			.style("fill", "#9dc0ec").attr("filter", "url(#shadow)");
	});
	panelLetter(1645, 146, "(b)");
}

// ---- panels (c) and (d) ----
function drawEnaPanel(id, o) {
	var zS = d3.scaleLinear().domain([-400, 200]).range(o.xr);
	var yS = d3.scaleLinear().domain([-300, 300]).range(o.yr);
	var g = svg.append("g");
	var line = d3.line().x(function (d) { return zS(d[0]); }).y(function (d) { return yS(d[1]); });

	defs.append("clipPath").attr("id", "rim" + id).append("path").attr("d", line(mirrored(o.rim)) + "Z");
	var fg = g.append("g").attr("clip-path", "url(#rim" + id + ")");
	var ys = fieldY.concat(fieldY.slice(0, -1).map(function (d) { return -d; }).reverse());
	drawField(fg, mirrorRows(o.field), fieldZ, ys, zS, yS);

	// lobes above and below the Z axis
	[1, -1].forEach(function (sign, k) {
		var flip = d3.scaleLinear().domain([-300, 300]).range(sign > 0 ? o.yr : [o.yr[1], o.yr[0]]);
		var flipped = d3.line().x(function (d) { return zS(d[0]); }).y(function (d) { return flip(d[1]); });
		var lobePath = flipped(o.lobeOutline) + "Z";
		fg.append("path").attr("d", lobePath).attr("fill", "none")
			.attr("stroke", "#ffff00").attr("stroke-width", 7).attr("stroke-linejoin", "round").attr("filter", "url(#soft)");
		defs.append("clipPath").attr("id", "lobe" + id + k).append("path").attr("d", lobePath);
		var lg = fg.append("g").attr("clip-path", "url(#lobe" + id + k + ")");
		drawField(lg, o.lobe, o.lobeZ, o.lobeY, zS, flip);
	});

	g.append("path").attr("d", line(mirrored(o.hole)) + "Z").attr("fill", "#fff");

	// dashed axes through the sun
	g.append("line").attr("x1", zS(0)).attr("x2", zS(0)).attr("y1", yS(300)).attr("y2", yS(-300))
		.attr("stroke", "#9a9a9a").attr("stroke-width", 6.5).attr("stroke-dasharray", "23 24");
	g.append("line").attr("x1", zS(-400)).attr("x2", zS(200)).attr("y1", yS(0)).attr("y2", yS(0))
		.attr("stroke", "#9a9a9a").attr("stroke-width", 6.5).attr("stroke-dasharray", "22 25.5");
	g.append("circle").attr("cx", zS(0)).attr("cy", yS(0)).attr("r", 16.5).attr("fill", "#e0632a");

	drawBoxAxes(g, zS, yS, 17, 25, dejaFont, 40, false);
	drawColorbar(g, o.cbx, o.yr[1], o.yr[0], o.cbw, o.cbPad, dejaFont, 40, 9);

	addText(o.titleX, o.titleY, o.title, dejaFont, 41.5, { anchor: "middle", weight: "bold" }).style("fill", "#000");
	addText(o.zLabelX, o.yr[0] + 114, "Z (AU)", dejaFont, 40, { anchor: "middle" });
	addText(o.yLabelX, (o.yr[0] + o.yr[1]) / 2, "Y (AU)", dejaFont, 40, { rotate: true });
	addText(o.cbLabelX, (o.yr[0] + o.yr[1]) / 2, "Flow speed (km/s) at ENA observation time", dejaFont, 41.4, { rotate: true });
}

drawPanelA();
drawPanelB();
drawEnaPanel("C", {
	xr: [318, 1335], yr: [2348.6, 1332.5], cbx: 1391, cbw: 48, cbPad: 17,
	rim: rimC, hole: holeC, field: fieldC,
	lobe: lobeC, lobeZ: lobeCz, lobeY: lobeCy, lobeOutline: lobeOutlineC,
	title: "ENA observation time at IBEX: 2012.0", titleX: 825, titleY: 1310,
	zLabelX: 825, yLabelX: 162, cbLabelX: 1566
});
drawEnaPanel("D", {
	xr: [1989, 3006], yr: [2354, 1338], cbx: 3062, cbw: 49, cbPad: 15,
	rim: rimD, hole: holeD, field: fieldD,
	lobe: lobeD, lobeZ: lobeDz, lobeY: lobeDy, lobeOutline: lobeOutlineD,
	title: "ENA observation time at IBEX: 2016.0", titleX: 2496, titleY: 1316,
	zLabelX: 2497, yLabelX: 1835, cbLabelX: 3238
});
panelLetter(76, 1362, "(c)");
panelLetter(1747, 1350, "(d)");
</script>
</body>
</html>
